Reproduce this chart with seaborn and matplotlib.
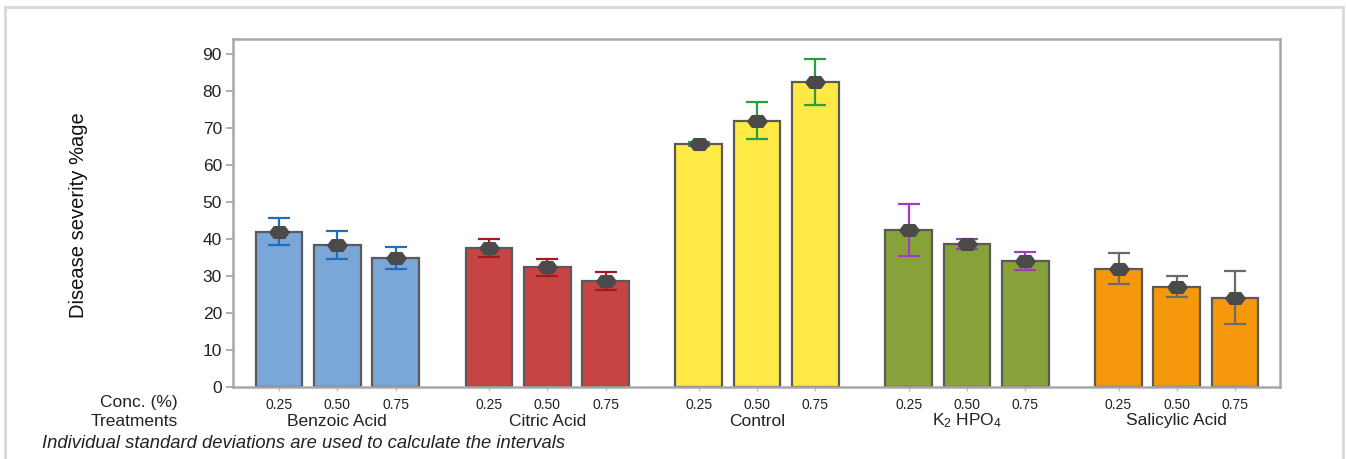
import numpy as np
import pandas as pd
import matplotlib
matplotlib.use("Agg")
import matplotlib.pyplot as plt
import matplotlib.transforms as mtransforms
from matplotlib.patches import Rectangle
import seaborn as sns

# ---------------- data ----------------
treatments = ["Benzoic Acid", "Citric Acid", "Control", "K2HPO4", "Salicylic Acid"]
treatment_labels = ["Benzoic Acid", "Citric Acid", "Control", r"K$_2$ HPO$_4$", "Salicylic Acid"]
concentrations = ["0.25", "0.50", "0.75"]
benzoic_mean = [42.0, 38.3, 34.9]
benzoic_sd = [3.6, 3.8, 3.0]
citric_mean = [37.5, 32.3, 28.6]
citric_sd = [2.5, 2.2, 2.4]
control_mean = [65.6, 71.9, 82.3]
control_sd = [0.5, 5.0, 6.2]
k2hpo4_mean = [42.5, 38.6, 34.1]
k2hpo4_sd = [7.0, 1.4, 2.5]
salicylic_mean = [32.0, 27.1, 24.1]
salicylic_sd = [4.1, 2.9, 7.1]

bar_colors = ["#7ba6d8", "#c84443", "#ffea45", "#88a23a", "#f5980b"]
err_colors = ["#1f6fc1", "#a31a1e", "#2a9d3c", "#a13bc2", "#6b6b6b"]

means = [benzoic_mean, citric_mean, control_mean, k2hpo4_mean, salicylic_mean]
sds = [benzoic_sd, citric_sd, control_sd, k2hpo4_sd, salicylic_sd]

group_step = 3.6
rows = []
for i, t in enumerate(treatments):
    for j, c in enumerate(concentrations):
        rows.append(dict(treatment=t, conc=c, pos=i * group_step + j,
                         mean=means[i][j], sd=sds[i][j]))
df = pd.DataFrame(rows)

# ---------------- figure ----------------
sns.set_style("white")
plt.rcParams["font.family"] = ["Liberation Sans", "DejaVu Sans"]
plt.rcParams["mathtext.default"] = "regular"

W, H = 1346, 459
fig = plt.figure(figsize=(W / 100, H / 100), dpi=100)
ax = fig.add_axes([233 / W, 1 - 387 / H, (1280 - 233) / W, (387 - 39) / H])

sns.barplot(data=df, x="pos", y="mean", hue="treatment", palette=bar_colors,
            native_scale=True, dodge=False, legend=False, errorbar=None,
            saturation=1, edgecolor="#5a5a5a", linewidth=1.6, width=0.8,
            ax=ax, zorder=2)

for i, t in enumerate(treatments):
    sub = df[df.treatment == t]
    ax.errorbar(sub["pos"], sub["mean"], yerr=sub["sd"], fmt="none",
                ecolor=err_colors[i], elinewidth=1.6, capsize=8, capthick=1.6,
                zorder=3)

hex_marker = [(-1, 0), (-0.55, -0.6), (0.55, -0.6), (1, 0),
              (0.55, 0.6), (-0.55, 0.6), (-1, 0)]
ax.plot(df["pos"], df["mean"], linestyle="none", marker=hex_marker,
        markersize=14, color="#4a4a4a", markeredgecolor="#4a4a4a", zorder=4)

ax.set_xlim(-0.79, 4 * group_step + 2 + 0.77)
ax.set_ylim(0, 94)
ax.set_yticks(np.arange(0, 91, 10))
ax.set_xticks(df["pos"])
ax.set_xticklabels(df["conc"], fontsize=10, color="#222222")
ax.set_xlabel("")
ax.set_ylabel("")
for lab in ax.get_yticklabels():
    lab.set_fontsize(12.5)
    lab.set_color("#222222")
ax.tick_params(axis="y", length=5, width=1.2, color="#a0a0a0", pad=3, left=True)
ax.tick_params(axis="x", length=3, width=1.0, color="#c0c0c0", pad=5, bottom=True)
for s in ax.spines.values():
    s.set_visible(True)
    s.set_color("#a8a8a8")
    s.set_linewidth(1.8)

# labels under the axis
blend = mtransforms.blended_transform_factory(ax.transData, fig.transFigure)
for i, lab in enumerate(treatment_labels):
    ax.text(i * group_step + 1, 1 - 421 / H, lab, transform=blend,
            ha="center", va="center", fontsize=12.5, color="#222222")

fig.text(178 / W, 1 - 402 / H, "Conc. (%)", ha="right", va="center",
         fontsize=12.5, color="#222222")
fig.text(178 / W, 1 - 421 / H, "Treatments", ha="right", va="center",
         fontsize=12.5, color="#222222")
fig.text(42 / W, 1 - 443 / H,
         "Individual standard deviations are used to calculate the intervals",
         ha="left", va="center", fontsize=13.2, style="italic", color="#222222")
fig.text(78 / W, 1 - 215 / H, "Disease severity %age", rotation=90,
         ha="center", va="center", fontsize=14.5, color="#111111")

# outer frame
fig.patches.append(Rectangle((5 / W, -0.02), (1343 - 5) / W, (H - 7) / H + 0.02,
                             transform=fig.transFigure, fill=False,
                             edgecolor="#d8d8d8", linewidth=2))

fig.savefig("out.png", dpi=100)
